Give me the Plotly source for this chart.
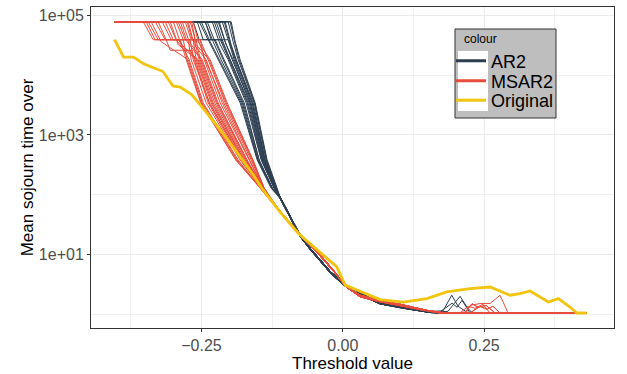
import plotly.graph_objects as go

# ---------------- data ----------------
ORIG_X = [-0.4038, -0.3879, -0.3702, -0.3525, -0.3182, -0.3006, -0.2877, -0.2670, -0.2493, -0.2169,
          -0.1904, -0.1581, -0.1432, -0.1109, -0.0785, -0.0460, -0.0106, 0.0041, 0.0483, 0.0660,
          0.1071, 0.1485, 0.1839, 0.2251, 0.2605, 0.2958, 0.3135, 0.3312, 0.3635, 0.3812,
          0.4019, 0.4137, 0.4314]
ORIG_Y = [39200, 20100, 20100, 15500, 11500, 6620, 6310, 4690, 2940, 1213,
          561, 213, 128, 51.2, 22.5, 12.3, 6.19, 3.07, 2.08, 1.76,
          1.60, 1.83, 2.36, 2.69, 2.86, 2.08, 2.22, 2.45, 1.60, 1.83,
          1.32, 1.05, 1.05]

# AR2 simulations: upper (head) part of each run
AR2_HEAD_X = [
    [-0.404, -0.2541, -0.2382, -0.2205, -0.1816, -0.1515, -0.1269],
    [-0.404, -0.2435, -0.2293, -0.2152, -0.1780, -0.1498, -0.1251],
    [-0.404, -0.2647, -0.2541, -0.2258, -0.2099, -0.1745, -0.1480, -0.1251],
    [-0.404, -0.2311, -0.2169, -0.2028, -0.1710, -0.1445, -0.1216],
    [-0.404, -0.2240, -0.2134, -0.1993, -0.1675, -0.1428, -0.1216],
    [-0.404, -0.2187, -0.2081, -0.1957, -0.1639, -0.1410, -0.1198],
    [-0.404, -0.2134, -0.2028, -0.1922, -0.1622, -0.1392, -0.1198],
    [-0.404, -0.2081, -0.1975, -0.1887, -0.1586, -0.1374, -0.1180],
    [-0.404, -0.2028, -0.1940, -0.1851, -0.1569, -0.1357, -0.1180],
    [-0.404, -0.1975, -0.1904, -0.1816, -0.1551, -0.1339, -0.1163],
    [-0.404, -0.2435, -0.2329, -0.2028, -0.1887, -0.1604, -0.1374, -0.1180],
    [-0.404, -0.2505, -0.2346, -0.2187, -0.1798, -0.1506, -0.1260],
    [-0.404, -0.2399, -0.2275, -0.2117, -0.1763, -0.1480, -0.1242],
    [-0.404, -0.2275, -0.2152, -0.2011, -0.1692, -0.1436, -0.1216],
    [-0.404, -0.2205, -0.2064, -0.1940, -0.1639, -0.1401, -0.1198],
    [-0.404, -0.2099, -0.2011, -0.1904, -0.1604, -0.1383, -0.1189],
    [-0.404, -0.1993, -0.1922, -0.1834, -0.1560, -0.1348, -0.1171],
    [-0.404, -0.2576, -0.2470, -0.2152, -0.1993, -0.1657, -0.1419, -0.1207],
]
AR2_HEAD_Y = [
    [78300, 78300, 39200, 18100, 3440, 381, 129],
    [78300, 78300, 36200, 18100, 3440, 381, 129],
    [78300, 78300, 39200, 39200, 18100, 3440, 381, 129],
    [78300, 78300, 32300, 18100, 3440, 381, 129],
    [78300, 78300, 39200, 18100, 3440, 381, 129],
    [78300, 78300, 36200, 18100, 3440, 381, 129],
    [78300, 78300, 39200, 18100, 3440, 381, 129],
    [78300, 78300, 32300, 18100, 3440, 381, 129],
    [78300, 78300, 36200, 18100, 3440, 381, 129],
    [78300, 78300, 36200, 18100, 3440, 381, 129],
    [78300, 78300, 39200, 39200, 18100, 3440, 381, 129],
    [78300, 78300, 36200, 18100, 3440, 381, 129],
    [78300, 78300, 39200, 18100, 3440, 381, 129],
    [78300, 78300, 36200, 18100, 3440, 381, 129],
    [78300, 78300, 32300, 18100, 3440, 381, 129],
    [78300, 78300, 39200, 18100, 3440, 381, 129],
    [78300, 78300, 39200, 18100, 3440, 381, 129],
    [78300, 78300, 39200, 39200, 18100, 3440, 381, 129],
]
# AR2 simulations: lower (tail) part variants
AR2_TAIL_X = [
    [-0.1109, -0.0932, -0.0755, -0.0578, -0.0437, -0.0225, 0.0005, 0.0306, 0.0659, 0.1013, 0.1243, 0.1543, 0.1808, 0.4312],
    [-0.1109, -0.0932, -0.0755, -0.0578, -0.0437, -0.0225, 0.0005, 0.0306, 0.0659, 0.1013, 0.1243, 0.1543, 0.1720, 0.4312],
    [-0.1109, -0.0932, -0.0755, -0.0578, -0.0437, -0.0225, 0.0005, 0.0306, 0.0659, 0.1013, 0.1243, 0.1543, 0.1773, 0.1927, 0.2039, 0.2215, 0.4312],
    [-0.1109, -0.0932, -0.0755, -0.0578, -0.0437, -0.0225, 0.0005, 0.0306, 0.0659, 0.1013, 0.1243, 0.1543, 0.1861, 0.2074, 0.2198, 0.2286, 0.4312],
    [-0.1109, -0.0932, -0.0755, -0.0578, -0.0437, -0.0225, 0.0005, 0.0306, 0.0659, 0.1013, 0.1243, 0.1543, 0.1720, 0.1932, 0.2021, 0.2109, 0.2251, 0.4312],
]
AR2_TAIL_Y = [
    [91.4, 43.9, 21.1, 12.8, 9.02, 5.25, 3.30, 2.24, 1.58, 1.36, 1.26, 1.12, 1.05, 1.05],
    [86.3, 41.4, 19.9, 12.1, 8.51, 4.96, 3.12, 2.11, 1.49, 1.28, 1.19, 1.07, 1.05, 1.05],
    [91.4, 43.9, 21.1, 12.8, 9.02, 5.25, 3.30, 2.24, 1.58, 1.36, 1.26, 1.12, 1.14, 2.08, 1.36, 1.05, 1.05],
    [86.3, 41.4, 19.9, 12.1, 8.51, 4.96, 3.12, 2.11, 1.49, 1.28, 1.19, 1.07, 1.12, 2.00, 1.31, 1.05, 1.05],
    [91.4, 43.9, 21.1, 12.8, 9.02, 5.25, 3.30, 2.24, 1.58, 1.36, 1.26, 1.12, 1.10, 1.53, 1.31, 1.71, 1.05, 1.05],
]
AR2_TAIL_OF = [1, 0, 2, 1, 0, 3, 0, 4, 1, 0, 1, 0, 1, 0, 1, 0, 1, 0]

# MSAR2 simulations
MSAR2_HEAD_X = [
    [-0.404, -0.3531, -0.3354, -0.2823, -0.2753, -0.2505, -0.1887, -0.1463],
    [-0.404, -0.3443, -0.3266, -0.2947, -0.2806, -0.2717, -0.2470, -0.1851, -0.1463],
    [-0.404, -0.3319, -0.3143, -0.2735, -0.2682, -0.2417, -0.1816, -0.1445],
    [-0.404, -0.3196, -0.3036, -0.2912, -0.2770, -0.2664, -0.2629, -0.2382, -0.1799, -0.1445],
    [-0.404, -0.3090, -0.2947, -0.2647, -0.2594, -0.2329, -0.1763, -0.1428],
    [-0.404, -0.3000, -0.2859, -0.2558, -0.2293, -0.1746, -0.1428],
    [-0.404, -0.2912, -0.2788, -0.2594, -0.2523, -0.2240, -0.1710, -0.1428],
    [-0.404, -0.2841, -0.2717, -0.2488, -0.2205, -0.1692, -0.1410],
    [-0.404, -0.2788, -0.2682, -0.2523, -0.2452, -0.2169, -0.1657, -0.1410],
    [-0.404, -0.2735, -0.2629, -0.2417, -0.2134, -0.1640, -0.1410],
    [-0.404, -0.2700, -0.2611, -0.2523, -0.2382, -0.2081, -0.1604, -0.1392],
    [-0.404, -0.2647, -0.2558, -0.2346, -0.2046, -0.1587, -0.1392],
    [-0.404, -0.3266, -0.3125, -0.3053, -0.2700, -0.2611, -0.2364, -0.1781, -0.1445],
    [-0.404, -0.3478, -0.3319, -0.2876, -0.2770, -0.2514, -0.1895, -0.1463],
    [-0.404, -0.3390, -0.3213, -0.2735, -0.2488, -0.1869, -0.1454],
    [-0.404, -0.3143, -0.3000, -0.2700, -0.2647, -0.2355, -0.1781, -0.1437],
    [-0.404, -0.3053, -0.2912, -0.2576, -0.2311, -0.1754, -0.1428],
    [-0.404, -0.2947, -0.2823, -0.2629, -0.2541, -0.2267, -0.1728, -0.1419],
    [-0.404, -0.2876, -0.2753, -0.2505, -0.2222, -0.1702, -0.1419],
    [-0.404, -0.2753, -0.2664, -0.2558, -0.2434, -0.2107, -0.1622, -0.1401],
    [-0.404, -0.2673, -0.2594, -0.2364, -0.2064, -0.1595, -0.1392],
]
MSAR2_HEAD_Y = [
    [78300, 78300, 39200, 39200, 18100, 3440, 381, 129],
    [78300, 78300, 39200, 39200, 26100, 18100, 3440, 381, 129],
    [78300, 78300, 39200, 39200, 18100, 3440, 381, 129],
    [78300, 78300, 39200, 39200, 26100, 26100, 18100, 3440, 381, 129],
    [78300, 78300, 39200, 39200, 18100, 3440, 381, 129],
    [78300, 78300, 32300, 18100, 3440, 381, 129],
    [78300, 78300, 39200, 39200, 18100, 3440, 381, 129],
    [78300, 78300, 36200, 18100, 3440, 381, 129],
    [78300, 78300, 39200, 39200, 18100, 3440, 381, 129],
    [78300, 78300, 32300, 18100, 3440, 381, 129],
    [78300, 78300, 39200, 39200, 18100, 3440, 381, 129],
    [78300, 78300, 36200, 18100, 3440, 381, 129],
    [78300, 78300, 39200, 26100, 26100, 18100, 3440, 381, 129],
    [78300, 78300, 39200, 39200, 18100, 3440, 381, 129],
    [78300, 78300, 36200, 18100, 3440, 381, 129],
    [78300, 78300, 39200, 39200, 18100, 3440, 381, 129],
    [78300, 78300, 32300, 18100, 3440, 381, 129],
    [78300, 78300, 39200, 39200, 18100, 3440, 381, 129],
    [78300, 78300, 36200, 18100, 3440, 381, 129],
    [78300, 78300, 39200, 39200, 18100, 3440, 381, 129],
    [78300, 78300, 32300, 18100, 3440, 381, 129],
]
MSAR2_TAIL_X = [
    [-0.1109, -0.0755, -0.0437, -0.0136, 0.0041, 0.0306, 0.0659, 0.1013, 0.1490, 0.1808, 0.4312],
    [-0.1109, -0.0755, -0.0437, -0.0136, 0.0041, 0.0306, 0.0659, 0.1013, 0.1366, 0.1720, 0.4312],
    [-0.1109, -0.0755, -0.0437, -0.0136, 0.0041, 0.0306, 0.0659, 0.1013, 0.1490, 0.1808, 0.2180, 0.2251, 0.2427, 0.2604, 0.2781, 0.2923, 0.4312],
    [-0.1109, -0.0755, -0.0437, -0.0136, 0.0041, 0.0306, 0.0659, 0.1013, 0.1366, 0.1720, 0.2074, 0.2215, 0.2339, 0.2480, 0.2604, 0.4312],
    [-0.1109, -0.0755, -0.0437, -0.0136, 0.0041, 0.0306, 0.0659, 0.1013, 0.1490, 0.1808, 0.2162, 0.2286, 0.2392, 0.2534, 0.2693, 0.4312],
    [-0.1109, -0.0755, -0.0437, -0.0136, 0.0041, 0.0306, 0.0659, 0.1013, 0.1366, 0.1720, 0.2251, 0.2427, 0.2551, 0.2657, 0.2781, 0.4312],
]
MSAR2_TAIL_Y = [
    [53.2, 21.9, 10.9, 5.05, 3.05, 2.08, 1.71, 1.47, 1.16, 1.05, 1.05],
    [50.2, 20.7, 10.3, 4.86, 2.94, 1.96, 1.62, 1.39, 1.19, 1.05, 1.05],
    [53.2, 21.9, 10.9, 5.05, 3.05, 2.08, 1.71, 1.47, 1.16, 1.05, 1.05, 1.41, 1.51, 1.51, 2.08, 1.05, 1.05],
    [50.2, 20.7, 10.3, 4.86, 2.94, 1.96, 1.62, 1.39, 1.19, 1.05, 1.05, 1.36, 1.26, 1.47, 1.05, 1.05],
    [53.2, 21.9, 10.9, 5.05, 3.05, 2.08, 1.71, 1.47, 1.16, 1.05, 1.08, 1.50, 1.31, 1.41, 1.05, 1.05],
    [50.2, 20.7, 10.3, 4.86, 2.94, 1.96, 1.62, 1.39, 1.19, 1.05, 1.05, 1.36, 1.21, 1.36, 1.05, 1.05],
]
MSAR2_TAIL_OF = [0, 1, 2, 1, 3, 0, 4, 1, 5, 0, 1, 0, 4, 1, 0, 1, 0, 1, 0, 5, 1]

Y_TICKS = [10, 1000, 100000]
Y_TICK_TEXT = ["1e+01", "1e+03", "1e+05"]
Y_MINOR = [1, 100, 10000]
X_TICKS = [-0.25, 0.0, 0.25]
X_TICK_TEXT = ["\u22120.25", "0.00", "0.25"]
X_MINOR = [-0.375, -0.125, 0.125, 0.375]

SERIES = ["AR2", "MSAR2", "Original"]
COLORS = {"AR2": "#2C3E50", "MSAR2": "#E74C3C", "Original": "#F1C40F"}

FONT = "Liberation Sans, Arial, Helvetica, sans-serif"

fig = go.Figure()

for i in range(len(AR2_HEAD_X)):
    t = AR2_TAIL_OF[i]
    fig.add_trace(go.Scatter(x=AR2_HEAD_X[i] + AR2_TAIL_X[t], y=AR2_HEAD_Y[i] + AR2_TAIL_Y[t],
                             mode="lines", line=dict(color=COLORS["AR2"], width=1),
                             showlegend=False, hoverinfo="skip"))
for i in range(len(MSAR2_HEAD_X)):
    t = MSAR2_TAIL_OF[i]
    fig.add_trace(go.Scatter(x=MSAR2_HEAD_X[i] + MSAR2_TAIL_X[t], y=MSAR2_HEAD_Y[i] + MSAR2_TAIL_Y[t],
                             mode="lines", line=dict(color=COLORS["MSAR2"], width=1),
                             showlegend=False, hoverinfo="skip"))
fig.add_trace(go.Scatter(x=ORIG_X, y=ORIG_Y, mode="lines",
                         line=dict(color=COLORS["Original"], width=2.8),
                         showlegend=False, name="Original"))


def px_x(p):
    return (p - 91) / 523.0


def px_y(p):
    return 1 - (p - 7) / 321.0


# legend entries, one small legend per entry so the spacing matches
LEG_NAMES = ["legend", "legend2", "legend3"]
LEG_CENTER_PY = [61, 81, 100.5]
for s, ln in zip(SERIES, LEG_NAMES):
    fig.add_trace(go.Scatter(x=[None], y=[None], mode="lines", name=s, legend=ln,
                             line=dict(color=COLORS[s], width=3), showlegend=True))

leg_common = dict(xanchor="left", yanchor="middle", bgcolor="rgba(0,0,0,0)", borderwidth=0,
                  font=dict(size=18, family=FONT, color="black"), itemwidth=30, tracegroupgap=0)

shapes = [
    dict(type="rect", xref="paper", yref="paper", x0=px_x(455), x1=px_x(556), y0=px_y(118), y1=px_y(29),
         fillcolor="#BEBEBE", line=dict(color="#333333", width=1), layer="above"),
    dict(type="rect", xref="paper", yref="paper", x0=px_x(458), x1=px_x(488), y0=px_y(111), y1=px_y(51),
         fillcolor="white", line=dict(width=0), layer="above"),
]

fig.update_layout(
    width=627, height=374,
    margin=dict(l=91, r=13, t=7, b=46, autoexpand=False),
    paper_bgcolor="white", plot_bgcolor="white",
    font=dict(family=FONT, color="black"),
    shapes=shapes,
    showlegend=True,
    legend=dict(x=px_x(451), y=px_y(LEG_CENTER_PY[0]), **leg_common),
    legend2=dict(x=px_x(451), y=px_y(LEG_CENTER_PY[1]), **leg_common),
    legend3=dict(x=px_x(451), y=px_y(LEG_CENTER_PY[2]), **leg_common),
    annotations=[dict(text="colour", xref="paper", yref="paper", x=px_x(462), y=px_y(39.5),
                      xanchor="left", yanchor="middle", showarrow=False,
                      font=dict(size=12, family=FONT, color="black"))],
    xaxis=dict(range=[-0.4455, 0.4797], tickmode="array", tickvals=X_TICKS, ticktext=X_TICK_TEXT,
               showgrid=True, gridcolor="#EBEBEB", gridwidth=1.1,
               minor=dict(tickmode="array", tickvals=X_MINOR, showgrid=True,
                          gridcolor="#F0F0F0", gridwidth=0.6, ticks=""),
               ticks="outside", ticklen=3, tickcolor="#333333", tickwidth=1,
               tickfont=dict(size=16, color="#4D4D4D", family=FONT),
               showline=True, linecolor="#333333", linewidth=1, mirror=True, zeroline=False,
               title=dict(text="Threshold value", font=dict(size=17, color="black", family=FONT), standoff=2)),
    yaxis=dict(type="log", range=[-0.230, 5.141], tickmode="array", tickvals=Y_TICKS, ticktext=Y_TICK_TEXT,
               showgrid=True, gridcolor="#EBEBEB", gridwidth=1.1,
               minor=dict(tickmode="array", tickvals=Y_MINOR, showgrid=True,
                          gridcolor="#F0F0F0", gridwidth=0.6, ticks=""),
               ticks="outside", ticklen=3, tickcolor="#333333", tickwidth=1,
               tickfont=dict(size=16, color="#4D4D4D", family=FONT),
               showline=True, linecolor="#333333", linewidth=1, mirror=True, zeroline=False,
               title=dict(text="Mean sojourn time over", font=dict(size=17, color="black", family=FONT), standoff=0)),
)

fig.write_html("out.html", config={"displayModeBar": False},
               post_script="document.body.style.margin='0px';document.body.style.overflow='hidden';")
